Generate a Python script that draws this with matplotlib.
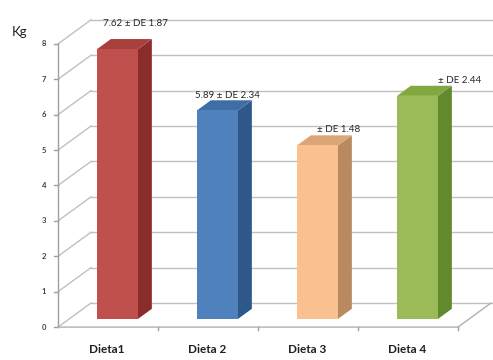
import matplotlib
matplotlib.use("Agg")
import matplotlib.pyplot as plt
from matplotlib.patches import Polygon

plt.rcParams['font.family'] = ['Lato', 'DejaVu Sans']

categories = ["Dieta1", "Dieta 2", "Dieta 3", "Dieta 4"]
values = [7.62, 5.89, 4.9, 6.3]
labels = ["7.62 \u00b1 DE 1.87", "5.89 \u00b1 DE 2.34", "\u00b1 DE 1.48", "\u00b1 DE 2.44"]
y_ticks = [0, 1, 2, 3, 4, 5, 6, 7, 8]

front_colors = ["#c0504d", "#4f81bd", "#fac090", "#9bbb59"]
top_colors = ["#a8403d", "#3f6da6", "#dca576", "#82a83f"]
side_colors = ["#8a2d2a", "#2e5889", "#b98a60", "#628a2c"]

# depth of the 3d box, in data units
DX, DY = 0.33, 0.68
# bar placement inside the box
BAR_W = 0.41
BAR_X0 = 0.39
BAR_F = 0.34   # depth fraction of bar front face
BAR_D = 0.42   # depth fraction covered by bar
# label placement (x start, y offset above bar)
label_x = [0.45, 1.37, 2.59, 3.80]
label_dy = [0.95, 0.65, 0.68, 0.68]

fig = plt.figure(figsize=(4.93, 3.6), dpi=100)
ax = fig.add_axes([0, 0, 1, 1])
ax.set_xlim(-0.58, 4.35)
ax.set_ylim(-0.93, 9.24)
ax.axis("off")

grid = "#c0c0c0"
n = len(categories)
ymax = y_ticks[-1]

# side wall diagonals and back wall gridlines
for t in y_ticks:
    ax.plot([0, DX], [t, t + DY], color=grid, lw=1, zorder=1)
    ax.plot([DX, n + DX + 0.05], [t + DY, t + DY], color=grid, lw=1, zorder=1)
    ax.plot([-0.04, 0], [t, t], color="#a0a0a0", lw=1, zorder=1)
    ax.text(-0.12, t, str(t), ha="right", va="center", fontsize=5.5,
            color="#404040", fontweight="bold")

# front vertical axis
ax.plot([0, 0], [0, ymax], color="#a0a0a0", lw=1, zorder=2)
# floor outline
ax.plot([0, n, n + DX], [0, 0, DY], color="#b0b0b0", lw=1, zorder=2)
for i in range(1, n + 1):
    ax.plot([i, i], [0, -0.08], color="#a0a0a0", lw=1, zorder=2)

for i, v in enumerate(values):
    x0 = i + BAR_X0
    x1 = x0 + BAR_W
    y0 = BAR_F * DY
    y1 = y0 + v
    ddx, ddy = BAR_D * DX, BAR_D * DY
    front = [(x0, y0), (x1, y0), (x1, y1), (x0, y1)]
    side = [(x1, y0), (x1 + ddx, y0 + ddy), (x1 + ddx, y1 + ddy), (x1, y1)]
    top = [(x0, y1), (x1, y1), (x1 + ddx, y1 + ddy), (x0 + ddx, y1 + ddy)]
    ax.add_patch(Polygon(side, closed=True, fc=side_colors[i], ec="none", zorder=3))
    ax.add_patch(Polygon(top, closed=True, fc=top_colors[i], ec="none", zorder=3))
    ax.add_patch(Polygon(front, closed=True, fc=front_colors[i], ec="none", zorder=4))

    ax.text(label_x[i], v + label_dy[i], labels[i], ha="left", va="center",
            fontsize=7, color="#282828", zorder=5)
    ax.text(i + 0.49, -0.62, categories[i], ha="center", va="center",
            fontsize=8.5, color="#202020", fontweight="bold")

ax.text(-0.38, 8.35, "Kg", ha="center", va="center", fontsize=9.5, color="#202020")

fig.savefig("out.png", dpi=100)
plt.close(fig)
